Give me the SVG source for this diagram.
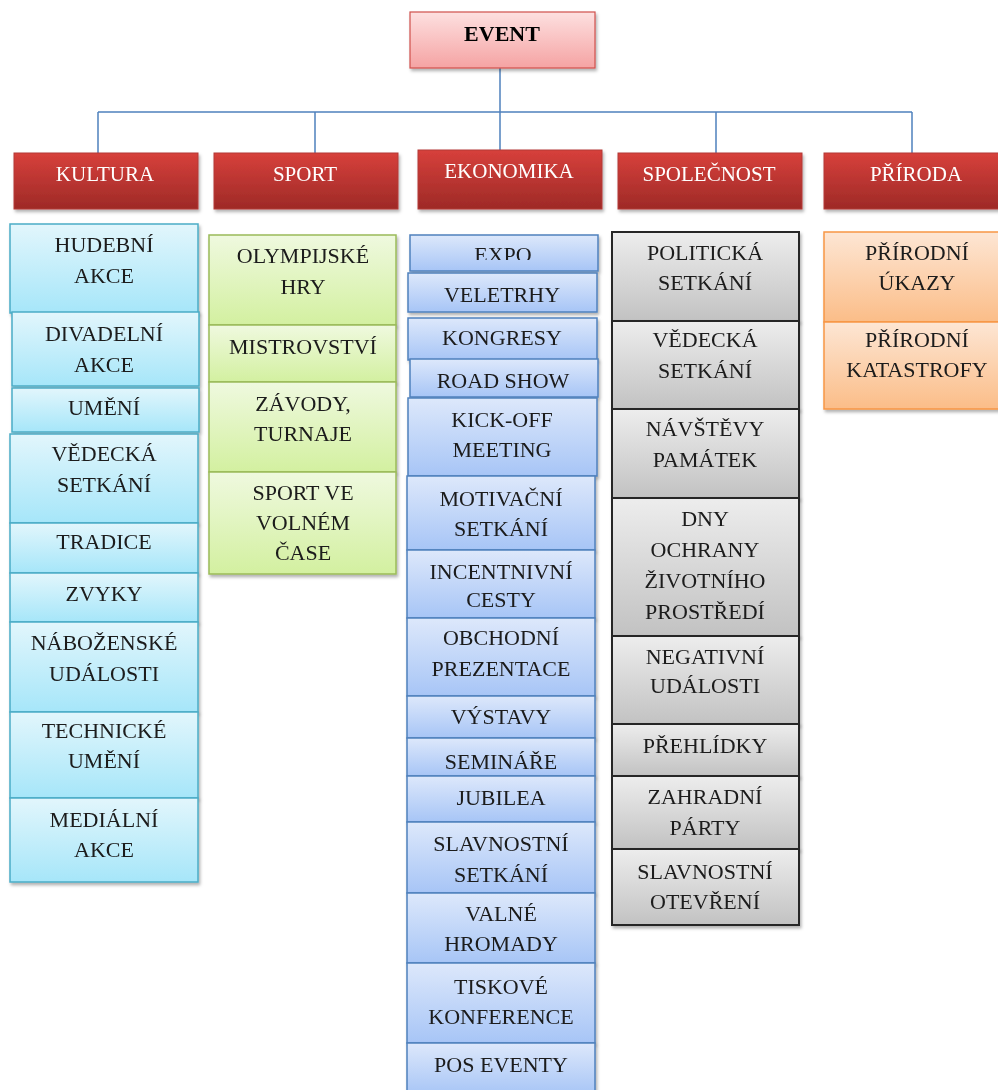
<svg xmlns="http://www.w3.org/2000/svg" width="998" height="1090" viewBox="0 0 998 1090">
<defs>
<linearGradient id="gEvent" x1="0" y1="0" x2="0" y2="1"><stop offset="0" stop-color="#fde0e0"/><stop offset="1" stop-color="#f5a3a3"/></linearGradient>
<linearGradient id="gHead" x1="0" y1="0" x2="0" y2="1"><stop offset="0" stop-color="#d7403b"/><stop offset="1" stop-color="#9e2a27"/></linearGradient>
<linearGradient id="gCyan" x1="0" y1="0" x2="0" y2="1"><stop offset="0" stop-color="#e2f6fc"/><stop offset="1" stop-color="#a6e6f9"/></linearGradient>
<linearGradient id="gGreen" x1="0" y1="0" x2="0" y2="1"><stop offset="0" stop-color="#eff9df"/><stop offset="1" stop-color="#d3f0a0"/></linearGradient>
<linearGradient id="gBlue" x1="0" y1="0" x2="0" y2="1"><stop offset="0" stop-color="#dde8fb"/><stop offset="1" stop-color="#a7c5f6"/></linearGradient>
<linearGradient id="gGray" x1="0" y1="0" x2="0" y2="1"><stop offset="0" stop-color="#ededed"/><stop offset="1" stop-color="#c2c2c2"/></linearGradient>
<linearGradient id="gOrange" x1="0" y1="0" x2="0" y2="1"><stop offset="0" stop-color="#fde6d4"/><stop offset="1" stop-color="#fbbd88"/></linearGradient>
<filter id="sh" x="-10%" y="-10%" width="125%" height="130%"><feDropShadow dx="1.5" dy="2.5" stdDeviation="1.8" flood-color="#000" flood-opacity="0.3"/></filter>
<clipPath id="clipExpo"><rect x="408" y="235" width="192" height="25"/></clipPath>
</defs>
<style>
text{font-family:"Liberation Serif","Times New Roman",serif;font-size:22px;text-anchor:middle;fill:#1a1a1a}
.ev{font-weight:bold;fill:#000}
.hd{fill:#fff;font-size:21px}
.event{fill:url(#gEvent);stroke:#d0504c;stroke-width:1.2}
.head{fill:url(#gHead);stroke:#b33a36;stroke-width:1}
.cy{fill:url(#gCyan);stroke:#4bacc6;stroke-width:1.5}
.gr{fill:url(#gGreen);stroke:#9bbb59;stroke-width:1.5}
.bl{fill:url(#gBlue);stroke:#4f81bd;stroke-width:1.5}
.gy{fill:url(#gGray);stroke:#262626;stroke-width:2}
.or{fill:url(#gOrange);stroke:#f79646;stroke-width:1.5}
.conn{stroke:#4f81bd;stroke-width:1.5;fill:none}
</style>
<rect width="998" height="1090" fill="#fff"/>

<g id="connectors">
<path class="conn" d="M500,68 V150 M98,112 H912 M98,112 V153 M315,112 V153 M716,112 V153 M912,112 V153"/>
</g>

<g id="event" filter="url(#sh)"><rect class="event" x="410" y="12" width="185" height="56"/><text class="ev" x="502" y="41">EVENT</text></g>

<g id="kultura" filter="url(#sh)"><rect class="head" x="14" y="153" width="184" height="56"/><text class="hd" x="105" y="181">KULTURA</text></g>
<g id="sport" filter="url(#sh)"><rect class="head" x="214" y="153" width="184" height="56"/><text class="hd" x="305" y="181">SPORT</text></g>
<g id="ekonomika" filter="url(#sh)"><rect class="head" x="418" y="150" width="184" height="59"/><text class="hd" x="509" y="178">EKONOMIKA</text></g>
<g id="spolecnost" filter="url(#sh)"><rect class="head" x="618" y="153" width="184" height="56"/><text class="hd" x="709" y="181">SPOLEČNOST</text></g>
<g id="priroda" filter="url(#sh)"><rect class="head" x="824" y="153" width="186" height="56"/><text class="hd" x="916" y="181">PŘÍRODA</text></g>

<!-- KULTURA column -->
<g id="k1" filter="url(#sh)"><rect class="cy" x="10" y="224" width="188" height="89"/><text x="104" y="252">HUDEBNÍ</text><text x="104" y="283">AKCE</text></g>
<g id="k2" filter="url(#sh)"><rect class="cy" x="12" y="312" width="187" height="74"/><text x="104" y="341">DIVADELNÍ</text><text x="104" y="372">AKCE</text></g>
<g id="k3" filter="url(#sh)"><rect class="cy" x="12" y="388" width="187" height="44"/><text x="104" y="415">UMĚNÍ</text></g>
<g id="k4" filter="url(#sh)"><rect class="cy" x="10" y="434" width="188" height="89"/><text x="104" y="461">VĚDECKÁ</text><text x="104" y="492">SETKÁNÍ</text></g>
<g id="k5" filter="url(#sh)"><rect class="cy" x="10" y="523" width="188" height="50"/><text x="104" y="549">TRADICE</text></g>
<g id="k6" filter="url(#sh)"><rect class="cy" x="10" y="573" width="188" height="49"/><text x="104" y="601">ZVYKY</text></g>
<g id="k7" filter="url(#sh)"><rect class="cy" x="10" y="622" width="188" height="90"/><text x="104" y="650">NÁBOŽENSKÉ</text><text x="104" y="681">UDÁLOSTI</text></g>
<g id="k8" filter="url(#sh)"><rect class="cy" x="10" y="712" width="188" height="86"/><text x="104" y="738">TECHNICKÉ</text><text x="104" y="768">UMĚNÍ</text></g>
<g id="k9" filter="url(#sh)"><rect class="cy" x="10" y="798" width="188" height="84"/><text x="104" y="827">MEDIÁLNÍ</text><text x="104" y="857">AKCE</text></g>

<!-- SPORT column -->
<g id="s1" filter="url(#sh)"><rect class="gr" x="209" y="235" width="187" height="90"/><text x="303" y="263">OLYMPIJSKÉ</text><text x="303" y="294">HRY</text></g>
<g id="s2" filter="url(#sh)"><rect class="gr" x="209" y="325" width="187" height="57"/><text x="303" y="354">MISTROVSTVÍ</text></g>
<g id="s3" filter="url(#sh)"><rect class="gr" x="209" y="382" width="187" height="90"/><text x="303" y="411">ZÁVODY,</text><text x="303" y="441">TURNAJE</text></g>
<g id="s4" filter="url(#sh)"><rect class="gr" x="209" y="472" width="187" height="102"/><text x="303" y="500">SPORT  VE</text><text x="303" y="530">VOLNÉM</text><text x="303" y="560">ČASE</text></g>

<!-- EKONOMIKA column -->
<g id="e1" filter="url(#sh)"><rect class="bl" x="410" y="235" width="188" height="36"/><text x="503" y="262" clip-path="url(#clipExpo)">EXPO</text></g>
<g id="e2" filter="url(#sh)"><rect class="bl" x="408" y="273" width="189" height="39"/><text x="502" y="302">VELETRHY</text></g>
<g id="e3" filter="url(#sh)"><rect class="bl" x="408" y="318" width="189" height="42"/><text x="502" y="345">KONGRESY</text></g>
<g id="e4" filter="url(#sh)"><rect class="bl" x="410" y="359" width="188" height="38"/><text x="503" y="388">ROAD SHOW</text></g>
<g id="e5" filter="url(#sh)"><rect class="bl" x="408" y="398" width="189" height="78"/><text x="502" y="427">KICK-OFF</text><text x="502" y="457">MEETING</text></g>
<g id="e6" filter="url(#sh)"><rect class="bl" x="407" y="476" width="188" height="74"/><text x="501" y="506">MOTIVAČNÍ</text><text x="501" y="536">SETKÁNÍ</text></g>
<g id="e7" filter="url(#sh)"><rect class="bl" x="407" y="550" width="188" height="68"/><text x="501" y="579">INCENTNIVNÍ</text><text x="501" y="607">CESTY</text></g>
<g id="e8" filter="url(#sh)"><rect class="bl" x="407" y="618" width="188" height="78"/><text x="501" y="645">OBCHODNÍ</text><text x="501" y="676">PREZENTACE</text></g>
<g id="e9" filter="url(#sh)"><rect class="bl" x="407" y="696" width="188" height="42"/><text x="501" y="724">VÝSTAVY</text></g>
<g id="e10" filter="url(#sh)"><rect class="bl" x="407" y="738" width="188" height="38"/><text x="501" y="769">SEMINÁŘE</text></g>
<g id="e11" filter="url(#sh)"><rect class="bl" x="407" y="776" width="188" height="46"/><text x="501" y="805">JUBILEA</text></g>
<g id="e12" filter="url(#sh)"><rect class="bl" x="407" y="822" width="188" height="71"/><text x="501" y="851">SLAVNOSTNÍ</text><text x="501" y="882">SETKÁNÍ</text></g>
<g id="e13" filter="url(#sh)"><rect class="bl" x="407" y="893" width="188" height="70"/><text x="501" y="921">VALNÉ</text><text x="501" y="951">HROMADY</text></g>
<g id="e14" filter="url(#sh)"><rect class="bl" x="407" y="963" width="188" height="80"/><text x="501" y="994">TISKOVÉ</text><text x="501" y="1024">KONFERENCE</text></g>
<g id="e15" filter="url(#sh)"><rect class="bl" x="407" y="1043" width="188" height="52"/><text x="501" y="1072">POS EVENTY</text></g>

<!-- SPOLEČNOST column -->
<g id="p1" filter="url(#sh)"><rect class="gy" x="612" y="232" width="187" height="89"/><text x="705" y="260">POLITICKÁ</text><text x="705" y="290">SETKÁNÍ</text></g>
<g id="p2" filter="url(#sh)"><rect class="gy" x="612" y="321" width="187" height="88"/><text x="705" y="347">VĚDECKÁ</text><text x="705" y="378">SETKÁNÍ</text></g>
<g id="p3" filter="url(#sh)"><rect class="gy" x="612" y="409" width="187" height="89"/><text x="705" y="436">NÁVŠTĚVY</text><text x="705" y="467">PAMÁTEK</text></g>
<g id="p4" filter="url(#sh)"><rect class="gy" x="612" y="498" width="187" height="138"/><text x="705" y="526">DNY</text><text x="705" y="557">OCHRANY</text><text x="705" y="588">ŽIVOTNÍHO</text><text x="705" y="619">PROSTŘEDÍ</text></g>
<g id="p5" filter="url(#sh)"><rect class="gy" x="612" y="636" width="187" height="88"/><text x="705" y="664">NEGATIVNÍ</text><text x="705" y="693">UDÁLOSTI</text></g>
<g id="p6" filter="url(#sh)"><rect class="gy" x="612" y="724" width="187" height="52"/><text x="705" y="753">PŘEHLÍDKY</text></g>
<g id="p7" filter="url(#sh)"><rect class="gy" x="612" y="776" width="187" height="73"/><text x="705" y="804">ZAHRADNÍ</text><text x="705" y="835">PÁRTY</text></g>
<g id="p8" filter="url(#sh)"><rect class="gy" x="612" y="849" width="187" height="76"/><text x="705" y="879">SLAVNOSTNÍ</text><text x="705" y="909">OTEVŘENÍ</text></g>

<!-- PŘÍRODA column -->
<g id="r1" filter="url(#sh)"><rect class="or" x="824" y="232" width="186" height="90"/><text x="917" y="260">PŘÍRODNÍ</text><text x="917" y="290">ÚKAZY</text></g>
<g id="r2" filter="url(#sh)"><rect class="or" x="824" y="322" width="186" height="87"/><text x="917" y="347">PŘÍRODNÍ</text><text x="917" y="377">KATASTROFY</text></g>
</svg>
